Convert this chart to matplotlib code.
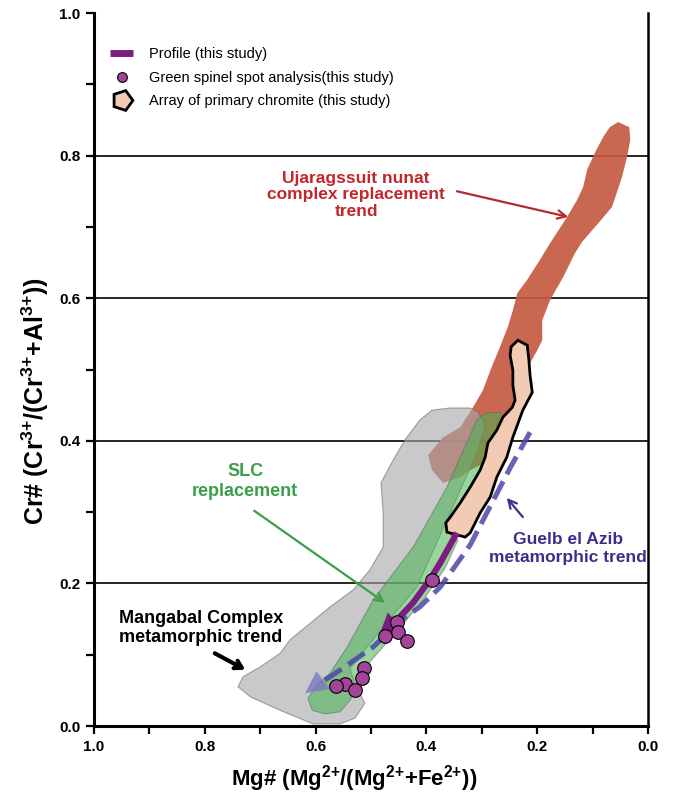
import numpy as np
import matplotlib
matplotlib.use("Agg")
import matplotlib.pyplot as plt
from matplotlib.patches import Polygon
from matplotlib.lines import Line2D

plt.rcParams['font.family'] = ['Liberation Sans', 'DejaVu Sans']
plt.rcParams['mathtext.fontset'] = 'custom'
plt.rcParams['mathtext.rm'] = 'Liberation Sans:bold'
plt.rcParams['mathtext.bf'] = 'Liberation Sans:bold'
plt.rcParams['mathtext.it'] = 'Liberation Sans:bold'
plt.rcParams['mathtext.default'] = 'rm'

# --- Fields (Mg#, Cr#) ---
ujar_mg = [0.054, 0.034, 0.032, 0.038, 0.047, 0.065, 0.090, 0.119, 0.132, 0.153,
           0.177, 0.186, 0.191, 0.191, 0.200, 0.213, 0.231, 0.258, 0.285, 0.321,
           0.339, 0.370, 0.390, 0.397, 0.370, 0.339, 0.316, 0.298, 0.282, 0.267,
           0.253, 0.244, 0.236, 0.218, 0.195, 0.177, 0.146, 0.128, 0.117, 0.110,
           0.096, 0.081, 0.069]
ujar_cr = [0.847, 0.840, 0.822, 0.798, 0.770, 0.728, 0.705, 0.679, 0.663, 0.630,
           0.597, 0.579, 0.569, 0.541, 0.527, 0.509, 0.471, 0.415, 0.373, 0.359,
           0.349, 0.341, 0.359, 0.380, 0.405, 0.419, 0.447, 0.471, 0.504, 0.532,
           0.560, 0.583, 0.607, 0.626, 0.654, 0.677, 0.714, 0.738, 0.756, 0.780,
           0.804, 0.826, 0.840]

mang_mg = [0.390, 0.357, 0.321, 0.307, 0.294, 0.309, 0.363, 0.417, 0.478, 0.538,
           0.529, 0.511, 0.529, 0.556, 0.605, 0.664, 0.718, 0.740, 0.731, 0.700,
           0.664, 0.646, 0.610, 0.574, 0.532, 0.502, 0.478, 0.478, 0.482, 0.460,
           0.439, 0.412]
mang_cr = [0.443, 0.446, 0.446, 0.440, 0.422, 0.383, 0.289, 0.195, 0.139, 0.081,
           0.058, 0.032, 0.011, 0.003, 0.003, 0.022, 0.041, 0.055, 0.069, 0.083,
           0.102, 0.121, 0.144, 0.167, 0.191, 0.219, 0.251, 0.299, 0.341, 0.373,
           0.401, 0.429]

slc_mg = [0.294, 0.267, 0.258, 0.273, 0.289, 0.294, 0.303, 0.321, 0.339, 0.357,
          0.365, 0.363, 0.343, 0.366, 0.403, 0.439, 0.475, 0.502, 0.520, 0.538,
          0.556, 0.583, 0.606, 0.614, 0.596, 0.574, 0.543, 0.496, 0.424, 0.363,
          0.309]
slc_cr = [0.439, 0.440, 0.429, 0.415, 0.397, 0.377, 0.359, 0.335, 0.313, 0.293,
          0.285, 0.272, 0.261, 0.222, 0.180, 0.146, 0.114, 0.090, 0.065, 0.036,
          0.020, 0.017, 0.022, 0.039, 0.059, 0.074, 0.111, 0.177, 0.251, 0.335,
          0.429]

chrom_mg = [0.235, 0.218, 0.215, 0.213, 0.209, 0.226, 0.244, 0.255, 0.273, 0.285,
            0.303, 0.321, 0.330, 0.345, 0.363, 0.365, 0.357, 0.339, 0.321, 0.303,
            0.294, 0.289, 0.273, 0.262, 0.245, 0.240, 0.244, 0.244, 0.249, 0.247]
chrom_cr = [0.541, 0.534, 0.513, 0.492, 0.468, 0.443, 0.405, 0.377, 0.349, 0.321,
            0.299, 0.271, 0.265, 0.268, 0.272, 0.285, 0.293, 0.313, 0.335, 0.359,
            0.377, 0.397, 0.415, 0.433, 0.447, 0.457, 0.478, 0.499, 0.520, 0.532]

# --- Trends ---
guelb_mg = [0.213, 0.249, 0.291, 0.321, 0.375, 0.412, 0.442, 0.496, 0.538, 0.574, 0.596, 0.619]
guelb_cr = [0.412, 0.362, 0.299, 0.254, 0.195, 0.167, 0.151, 0.111, 0.088, 0.069, 0.059, 0.046]

profile_mg = [0.345, 0.375, 0.394, 0.424, 0.448, 0.484]
profile_cr = [0.271, 0.229, 0.205, 0.173, 0.153, 0.130]

# --- Green spinel spots ---
spot_mg = [0.390, 0.453, 0.451, 0.475, 0.435, 0.513, 0.516, 0.547, 0.563, 0.529]
spot_cr = [0.205, 0.146, 0.132, 0.126, 0.119, 0.081, 0.067, 0.059, 0.056, 0.050]

fig = plt.figure(figsize=(6.74, 7.98), dpi=100)
ax = fig.add_axes([0.1395, 0.0902, 0.8220, 0.8935])

for yv in [0.2, 0.4, 0.6, 0.8]:
    ax.axhline(yv, color='black', lw=1.2, zorder=0.5)

ax.add_patch(Polygon(np.column_stack([ujar_mg, ujar_cr]), closed=True,
                     fc='#c65a41', ec='none', alpha=0.92, zorder=1))
ax.add_patch(Polygon(np.column_stack([mang_mg, mang_cr]), closed=True,
                     fc='#a8a9ac', ec='#6f6f6f', lw=0.8, alpha=0.62, zorder=2))
ax.add_patch(Polygon(np.column_stack([slc_mg, slc_cr]), closed=True,
                     fc='#45b34c', ec='#5b6f60', lw=0.8, alpha=0.55, zorder=3))
ax.add_patch(Polygon(np.column_stack([chrom_mg, chrom_cr]), closed=True,
                     fc='#f2cbb4', ec='black', lw=2, zorder=4))

# Guelb el Azib dashed trend
ax.plot(guelb_mg[:-1], guelb_cr[:-1], color='#4f45a8', alpha=0.85, lw=3.6,
        dashes=(4, 1.6), dash_capstyle='butt', zorder=5)
ax.annotate('', xy=(guelb_mg[-1], guelb_cr[-1]), xytext=(guelb_mg[-2], guelb_cr[-2]),
            arrowprops=dict(arrowstyle='-|>,head_length=0.8,head_width=0.4',
                            mutation_scale=20, fc='#7c76c6', ec='none', alpha=0.8,
                            lw=0, shrinkA=0, shrinkB=0), zorder=5)

# profile
ax.plot(profile_mg[:-1], profile_cr[:-1], color='#7b1c80', lw=4.5,
        solid_capstyle='butt', zorder=6)
ax.annotate('', xy=(profile_mg[-1], profile_cr[-1]), xytext=(profile_mg[-2], profile_cr[-2]),
            arrowprops=dict(arrowstyle='-|>,head_length=0.7,head_width=0.4',
                            mutation_scale=20, fc='#7b1c80', ec='none',
                            lw=0, shrinkA=0, shrinkB=0), zorder=6)

ax.plot(spot_mg, spot_cr, 'o', ms=9.8, mfc='#a3449b', mec='black', mew=0.8,
        ls='none', zorder=7)

# annotations
ax.text(0.527, 0.745, 'Ujaragssuit nunat\ncomplex replacement\ntrend', color='#c1272d',
        fontsize=12.5, fontweight='bold', ha='center', va='center', linespacing=1.15)
ax.annotate('', xy=(0.144, 0.714), xytext=(0.345, 0.750),
            arrowprops=dict(arrowstyle='->,head_length=0.6,head_width=0.3',
                            color='#b52a2c', lw=1.6, shrinkA=0, shrinkB=0))

ax.text(0.727, 0.343, 'SLC\nreplacement', color='#3a9e4a', fontsize=13,
        fontweight='bold', ha='center', va='center', linespacing=1.2)
ax.annotate('', xy=(0.475, 0.173), xytext=(0.711, 0.302),
            arrowprops=dict(arrowstyle='->,head_length=0.6,head_width=0.3',
                            color='#3a9e4a', lw=1.6, shrinkA=0, shrinkB=0))

ax.text(0.145, 0.249, 'Guelb el Azib\nmetamorphic trend', color='#3c2f8c', fontsize=12.5,
        fontweight='bold', ha='center', va='center', linespacing=1.25)
ax.annotate('', xy=(0.255, 0.320), xytext=(0.226, 0.293),
            arrowprops=dict(arrowstyle='->,head_length=0.6,head_width=0.3',
                            color='#3c2f8c', lw=1.6, shrinkA=0, shrinkB=0))

ax.text(0.955, 0.138, 'Mangabal Complex\nmetamorphic trend', color='black', fontsize=13,
        fontweight='bold', ha='left', va='center', linespacing=1.15)
ax.annotate('', xy=(0.727, 0.079), xytext=(0.782, 0.102),
            arrowprops=dict(arrowstyle='->,head_length=0.5,head_width=0.3',
                            color='black', lw=3, shrinkA=0, shrinkB=0))

# legend
handles = [
    Line2D([], [], color='#7b1c80', lw=5, solid_capstyle='butt'),
    Line2D([], [], ls='none', marker='o', ms=7, mfc='#a3449b', mec='black', mew=0.8),
    Line2D([], [], ls='none', marker=(5, 0, -90), ms=15, mfc='#f2cbb4', mec='black', mew=2),
]
labels = ['Profile (this study)', 'Green spinel spot analysis(this study)',
          'Array of primary chromite (this study)']
ax.legend(handles, labels, loc='upper left', bbox_to_anchor=(0.029, 0.952),
          frameon=False, fontsize=10.5, borderpad=0, borderaxespad=0,
          handlelength=1.6, handletextpad=1.1, labelspacing=0.65)

ax.set_xlim(1.0, 0.0)
ax.set_ylim(0.0, 1.0)
ax.set_xticks(np.arange(0, 1.01, 0.2))
ax.set_xticks(np.arange(0.1, 1.0, 0.2), minor=True)
ax.set_yticks(np.arange(0, 1.01, 0.2))
ax.set_yticks(np.arange(0.1, 1.0, 0.2), minor=True)
ax.set_xticklabels(['%.1f' % v for v in np.arange(0, 1.01, 0.2)])
ax.set_yticklabels(['%.1f' % v for v in np.arange(0, 1.01, 0.2)])
ax.tick_params(which='both', direction='out', length=6, width=1.6)
ax.tick_params(axis='both', labelsize=11, pad=4)
for lab in ax.get_xticklabels() + ax.get_yticklabels():
    lab.set_fontweight('bold')

ax.spines['top'].set_visible(False)
ax.spines['left'].set_linewidth(2.2)
ax.spines['bottom'].set_linewidth(2.2)
ax.spines['right'].set_linewidth(1.8)

ax.set_xlabel('Mg# (Mg$^{2{+}}$/(Mg$^{2{+}}$+Fe$^{2{+}}$))', fontsize=16, fontweight='bold')
ax.xaxis.set_label_coords(0.469, -0.052)
ax.set_ylabel('Cr# (Cr$^{3{+}}$/(Cr$^{3{+}}$+Al$^{3{+}}$))', fontsize=18, fontweight='bold')
ax.yaxis.set_label_coords(-0.078, 0.455)

fig.savefig('out.png', dpi=100)
